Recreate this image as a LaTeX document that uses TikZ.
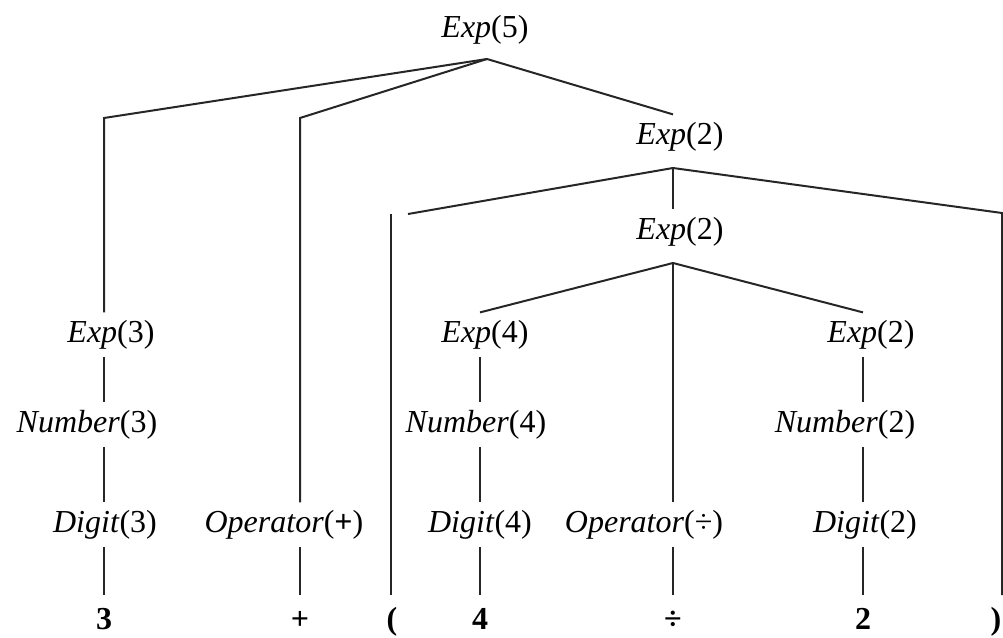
\documentclass[tikz,border=0pt]{standalone}
\usepackage{fontspec}
\setmainfont{Liberation Serif}
\usetikzlibrary{positioning}

\begin{document}
\begin{tikzpicture}[x=1pt, y=-1pt,
  lbl/.style={inner sep=0pt, outer ysep=8pt, text height=21.6pt,
              text depth=6.9pt, anchor=base,
              font=\fontsize{32}{38}\selectfont},
  leaf/.style={inner sep=0pt, outer ysep=12pt, text height=22pt,
               text depth=0pt, anchor=base,
               font=\fontsize{32}{38}\selectfont\bfseries},
  edge/.style={line width=2pt, black!85}
]
\useasboundingbox (0,0) rectangle (1003,637);

% inner nodes
\node[lbl] (e5)  at (485,37)  {\textit{Exp}(5)};
\node[lbl] (e2a) at (680,144) {\textit{Exp}(2)};
\node[lbl] (e2b) at (680,239) {\textit{Exp}(2)};
\node[lbl] (e3)  at (111,342) {\textit{Exp}(3)};
\node[lbl] (e4)  at (485,342) {\textit{Exp}(4)};
\node[lbl] (e2c) at (871,342) {\textit{Exp}(2)};
\node[lbl] (n3)  at (87,432)  {\textit{Number}(3)};
\node[lbl] (n4)  at (476,432) {\textit{Number}(4)};
\node[lbl] (n2)  at (845,432) {\textit{Number}(2)};
\node[lbl] (d3)  at (105,532) {\textit{Digit}(3)};
\node[lbl] (op1) at (284,532) {\textit{Operator}(\textbf{+})};
\node[lbl] (d4)  at (480,532) {\textit{Digit}(4)};
\node[lbl] (op2) at (644,532) {\textit{Operator}(÷)};
\node[lbl] (d2)  at (865,532) {\textit{Digit}(2)};

% leaves
\node[leaf] (l3)    at (104,629) {3};
\node[leaf] (lplus) at (300,629) {+};
\node[leaf] (lpar)  at (392,629) {(};
\node[leaf] (l4)    at (480,629) {4};
\node[leaf] (ldiv)  at (673,629) {÷};
\node[leaf] (l2)    at (863,629) {2};
\node[leaf] (lrpar) at (996,629) {)};

% junctions
\coordinate (a5)  at (487,59);
\coordinate (a2a) at (673,168);
\coordinate (a2b) at (673,263);
\coordinate (b3)  at (104,118);
\coordinate (bplus) at (300,118);
\coordinate (bp1) at (408,214);
\coordinate (bp2) at (391,214);
\coordinate (brp) at (1002,213);

% Exp(5)
\draw[edge] (a5) -- (b3) -- (e3.north -| l3);
\draw[edge] (a5) -- (bplus) -- (op1.north -| lplus);
\draw[edge] (a5) -- (e2a.north -| ldiv);

% Exp(2) with brackets
\draw[edge] (a2a) -- (bp1);
\draw[edge] (bp2) -- (lpar.north -| bp2);
\draw[edge] (a2a) -- (e2b.north -| ldiv);
\draw[edge] (a2a) -- (brp) -- (lrpar.north -| brp);

% Exp(2) with operator
\draw[edge] (a2b) -- (e4.north -| l4);
\draw[edge] (a2b) -- (op2.north -| ldiv);
\draw[edge] (a2b) -- (e2c.north -| l2);

% chains
\draw[edge] (e3.south -| l3) -- (n3.north -| l3);
\draw[edge] (n3.south -| l3) -- (d3.north -| l3);
\draw[edge] (d3.south -| l3) -- (l3);
\draw[edge] (op1.south -| lplus) -- (lplus);
\draw[edge] (e4.south -| l4) -- (n4.north -| l4);
\draw[edge] (n4.south -| l4) -- (d4.north -| l4);
\draw[edge] (d4.south -| l4) -- (l4);
\draw[edge] (op2.south -| ldiv) -- (ldiv);
\draw[edge] (e2c.south -| l2) -- (n2.north -| l2);
\draw[edge] (n2.south -| l2) -- (d2.north -| l2);
\draw[edge] (d2.south -| l2) -- (l2);

\end{tikzpicture}
\end{document}
